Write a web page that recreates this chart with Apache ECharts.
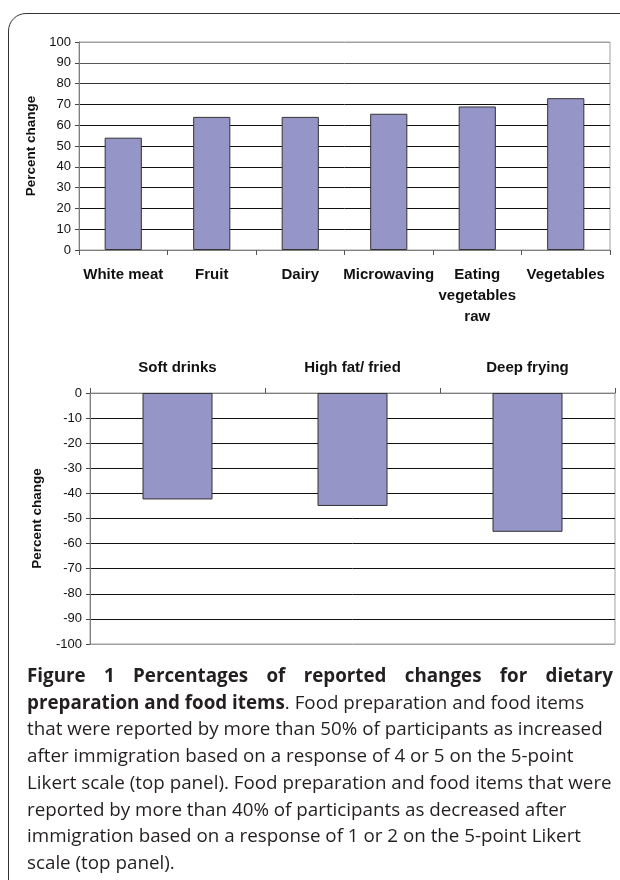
<!DOCTYPE html>
<html>
<head>
<meta charset="utf-8">
<script src="https://cdn.jsdelivr.net/npm/echarts@6/dist/echarts.min.js"></script>
<style>
  html, body { margin: 0; padding: 0; background: #fff; width: 620px; height: 880px; overflow: hidden; }
  #frame { position: absolute; left: 8px; top: 13px; width: 660px; height: 920px; border: 1.6px solid #333; border-top-left-radius: 18px; box-sizing: border-box; pointer-events: none; }
  #chart { position: absolute; left: 0; top: 0; width: 620px; height: 660px; }
  #caption { position: absolute; left: 27px; top: 662px; width: 586px; font-family: "Open Sans", "Noto Sans", sans-serif; font-size: 18.8px; line-height: 26.7px; color: #231f20; }
  #caption .ln { white-space: nowrap; }
  #caption .just { text-align: justify; text-align-last: justify; white-space: normal; }
  #caption b { font-weight: 700; }
</style>
</head>
<body>
<div id="chart"></div>
<div id="frame"></div>
<div id="caption">
  <div class="ln just"><b>Figure 1 Percentages of reported changes for dietary</b></div>
  <div class="ln"><b>preparation and food items</b>. Food preparation and food items</div>
  <div class="ln">that were reported by more than 50% of participants as increased</div>
  <div class="ln">after immigration based on a response of 4 or 5 on the 5-point</div>
  <div class="ln">Likert scale (top panel). Food preparation and food items that were</div>
  <div class="ln">reported by more than 40% of participants as decreased after</div>
  <div class="ln">immigration based on a response of 1 or 2 on the 5-point Likert</div>
  <div class="ln">scale (top panel).</div>
</div>
<script>
const topCategories = ['White meat', 'Fruit', 'Dairy', 'Microwaving', 'Eating\nvegetables\nraw', 'Vegetables'];
const topValues = [54, 64, 64, 65.5, 69, 73];
const bottomCategories = ['Soft drinks', 'High fat/ fried', 'Deep frying'];
const bottomValues = [-42.4, -45, -55.3];
const topAxisRange = [0, 100];
const bottomAxisRange = [-100, 0];
const tickStep = 10;
const axisName = 'Percent change';

const FONT = '"Liberation Sans", Arial, sans-serif';
const BAR_COLOR = '#9595c8';

const topSplitColors = ['#808080', '#111', '#111', '#111', '#111', '#111', '#111', '#111', '#333', '#555', '#a0a0a0'];
const bottomSplitColors = ['#a0a0a0', '#111', '#111', '#111', '#111', '#111', '#111', '#111', '#111', '#111', '#333'];

const chart = echarts.init(document.getElementById('chart'), null, { renderer: 'canvas' });

function catAxis(gridIndex, data, position, margin) {
  return {
    type: 'category', gridIndex: gridIndex, data: data, position: position,
    axisLine: { show: true, onZero: false, lineStyle: { color: '#808080', width: 1 } },
    axisTick: { show: true, length: 5, inside: false, lineStyle: { color: '#555' } },
    axisLabel: { interval: 0, fontFamily: FONT, fontWeight: 'bold', fontSize: 15, lineHeight: 21, color: '#111', margin: margin },
    splitLine: { show: false }
  };
}
function valAxis(gridIndex, range, nameGap, colors) {
  return {
    type: 'value', gridIndex: gridIndex, min: range[0], max: range[1], interval: tickStep,
    name: axisName, nameLocation: 'middle', nameGap: nameGap,
    nameTextStyle: { fontFamily: FONT, fontWeight: 'bold', fontSize: 13.5, color: '#111' },
    axisLine: { show: true, lineStyle: { color: '#808080' } },
    axisTick: { show: true, length: 4, lineStyle: { color: '#444' } },
    axisLabel: { fontFamily: FONT, fontSize: 13, color: '#111', margin: 8 },
    splitLine: { show: true, lineStyle: { color: colors, width: 1 } }
  };
}

chart.setOption({
  animation: false,
  grid: [
    { left: 79, top: 42, width: 531, height: 208, show: true, borderColor: '#a0a0a0', borderWidth: 1, backgroundColor: '#fff' },
    { left: 90, top: 393, width: 525, height: 251, show: true, borderColor: '#a0a0a0', borderWidth: 1, backgroundColor: '#fff' }
  ],
  xAxis: [
    catAxis(0, topCategories, 'bottom', 14),
    catAxis(1, bottomCategories, 'top', 15)
  ],
  yAxis: [
    valAxis(0, topAxisRange, 33, topSplitColors),
    valAxis(1, bottomAxisRange, 46, bottomSplitColors)
  ],
  series: [
    { type: 'bar', xAxisIndex: 0, yAxisIndex: 0, data: topValues, barWidth: '42%',
      itemStyle: { color: BAR_COLOR, borderColor: '#333', borderWidth: 1 } },
    { type: 'bar', xAxisIndex: 1, yAxisIndex: 1, data: bottomValues, barWidth: '40%',
      itemStyle: { color: BAR_COLOR, borderColor: '#333', borderWidth: 1 } }
  ]
});
</script>
</body>
</html>
